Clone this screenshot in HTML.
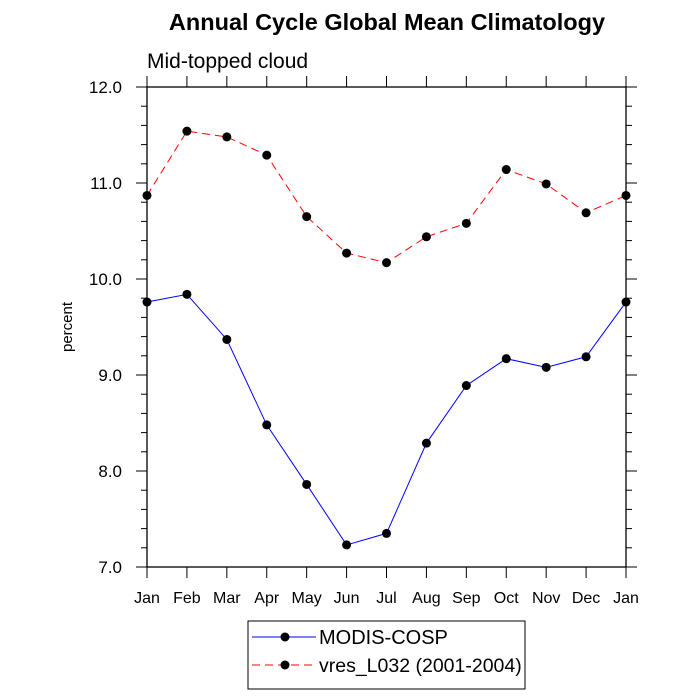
<!DOCTYPE html>
<html><head><meta charset="utf-8"><style>
body{margin:0;background:#fff}
svg{display:block;font-family:"Liberation Sans",Arial,sans-serif}
</style></head><body>
<svg id="c" width="700" height="700" viewBox="0 0 700 700">
<text x="387" y="30" font-size="23.5" font-weight="bold" text-anchor="middle">Annual Cycle Global Mean Climatology</text>
<text x="147" y="68" font-size="21">Mid-topped cloud</text>
<text transform="translate(72,327) rotate(-90)" font-size="15" text-anchor="middle">percent</text>
<g id="axes"></g>
<g id="series"></g>
<g>
<rect x="248" y="621" width="277" height="68" fill="none" stroke="#000" stroke-width="1"/>
<line x1="252" y1="637" x2="316" y2="637" stroke="#0000ff" stroke-width="1"/>
<circle cx="285" cy="637" r="4.5"/>
<text x="319" y="644" font-size="20">MODIS-COSP</text>
<line x1="252" y1="665" x2="316" y2="665" stroke="#ff0000" stroke-width="1" stroke-dasharray="8,5"/>
<circle cx="285" cy="665" r="4.5"/>
<text x="319" y="672" font-size="19.5">vres_L032 (2001-2004)</text>
</g>
</svg>
<script>
const months = ["Jan","Feb","Mar","Apr","May","Jun","Jul","Aug","Sep","Oct","Nov","Dec","Jan"];
const modis = [9.76,9.84,9.37,8.48,7.86,7.23,7.35,8.29,8.89,9.17,9.08,9.19,9.76];
const vres = [10.87,11.54,11.48,11.29,10.65,10.27,10.17,10.44,10.58,11.14,10.99,10.69,10.87];
const yTicks = ["7.0","8.0","9.0","10.0","11.0","12.0"];
const NS="http://www.w3.org/2000/svg";
const L=147,R=626,T=87,B=567,ymin=7,ymax=12;
const xs=i=>L+(R-L)*i/(months.length-1);
const ys=v=>B-(v-ymin)/(ymax-ymin)*(B-T);
function mk(tag,attrs,parent){const e=document.createElementNS(NS,tag);for(const k in attrs)e.setAttribute(k,attrs[k]);parent.appendChild(e);return e;}
const ax=document.getElementById('axes');
const frame=mk('rect',{x:L,y:T,width:R-L,height:B-T,fill:'none',stroke:'#000','stroke-width':1.3},ax);


months.forEach((m,i)=>{
  const x=xs(i);
  mk('line',{x1:x,y1:B,x2:x,y2:B+11,stroke:'#000'},ax);
  mk('line',{x1:x,y1:T,x2:x,y2:T-11,stroke:'#000'},ax);
  const t=mk('text',{x:x,y:B+36,'font-size':16,'text-anchor':'middle'},ax);
  t.textContent=m;
  
  
});
for(let v=ymin;v<=ymax+1e-9;v+=0.2){
  const y=ys(v);const major=Math.abs(v-Math.round(v))<1e-6;const len=major?11:6;
  mk('line',{x1:L,y1:y,x2:L-len,y2:y,stroke:'#000'},ax);
  mk('line',{x1:R,y1:y,x2:R+len,y2:y,stroke:'#000'},ax);
}
yTicks.forEach(s=>{
  const t=mk('text',{x:122,y:ys(parseFloat(s))+6,'font-size':17,'text-anchor':'end'},ax);
  t.textContent=s;
  
  
});
const sg=document.getElementById('series');
function drawSeries(vals,color,dash,name){
  const pts=vals.map((v,i)=>xs(i)+','+ys(v)).join(' ');
  const p=mk('polyline',{points:pts,fill:'none',stroke:color,'stroke-width':1,'stroke-dasharray':dash},sg);
  
  
  vals.forEach((v,i)=>{
    const c=mk('circle',{cx:xs(i),cy:ys(v),r:4.5,fill:'#000'},sg);
    
    
  });
}
drawSeries(modis,'#0000ff','none','modis');
drawSeries(vres,'#ff0000','8,5','vres');
</script>
</body></html>
